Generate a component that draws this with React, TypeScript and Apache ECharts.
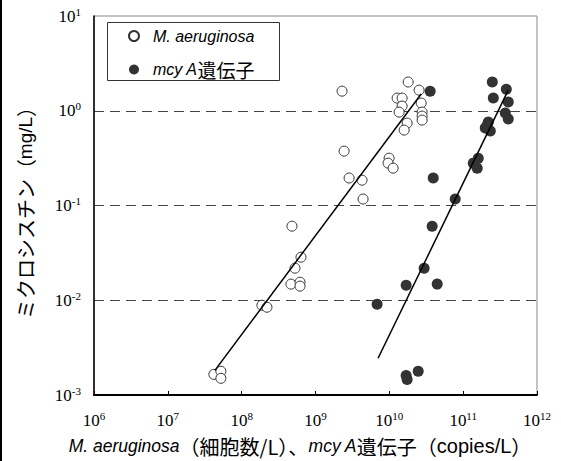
import React, { useEffect, useRef } from "react";
import * as echarts from "echarts";

// M. aeruginosa (cells/L) vs microcystin (mg/L)
const cellX = [4.2e7, 5.23e7, 5.23e7, 1.88e8, 2.2e8, 4.8e8, 6.36e8, 5.28e8, 4.65e8, 6.17e8, 6.17e8, 2.29e9, 2.44e9, 2.85e9, 4.27e9, 4.41e9, 9.93e9, 9.62e9, 1.125e10, 1.8e10, 2.53e10, 1.275e10, 1.49e10, 1.49e10, 1.357e10, 1.743e10, 1.587e10, 2.7e10, 2.78e10, 2.78e10, 2.78e10];
const cellY = [1.65e-3, 1.78e-3, 1.5e-3, 8.86e-3, 8.44e-3, 0.0605, 0.0285, 0.0218, 0.0148, 0.0155, 0.0141, 1.61, 0.375, 0.195, 0.185, 0.117, 0.316, 0.28, 0.248, 2.01, 1.65, 1.36, 1.36, 1.12, 0.968, 0.741, 0.625, 1.205, 0.968, 0.878, 0.797];

// mcy A gene (copies/L) vs microcystin (mg/L)
const geneX = [6.83e9, 1.69e10, 2.96e10, 4.45e10, 1.69e10, 1.743e10, 2.46e10, 3.8e10, 3.93e10, 3.57e10, 7.8e10, 1.6e11, 1.37e11, 1.55e11, 2.19e11, 1.99e11, 2.33e11, 2.12e11, 2.48e11, 3.84e11, 2.56e11, 4.08e11, 3.72e11, 4.08e11];
const geneY = [9.08e-3, 0.0144, 0.0218, 0.0148, 1.61e-3, 1.46e-3, 1.78e-3, 0.0605, 0.195, 1.61, 0.117, 0.316, 0.28, 0.248, 0.759, 0.656, 0.61, 0.706, 2.01, 1.69, 1.36, 1.235, 0.945, 0.817];

// regression lines (end points)
const cellFitX = [4.34e7, 2.7e10];
const cellFitY = [1.82e-3, 1.5];
const geneFitX = [7.04e9, 4.08e11];
const geneFitY = [2.44e-3, 1.65];

// axis ranges (decade exponents)
const xExponents = [6, 7, 8, 9, 10, 11, 12];
const yExponents = [-3, -2, -1, 0, 1];

const seriesNames = ["M. aeruginosa", "mcy A遺伝子"];

const zip = (xs: number[], ys: number[]) => xs.map((x, i) => [x, ys[i]]);

const SERIF = "'Liberation Serif', 'Times New Roman', serif";
const SANS = "'Liberation Sans', Arial, sans-serif";
const CJK = "'Noto Sans CJK JP', sans-serif";

const powLabel = (v: number) => {
  const e = Math.round(Math.log10(v));
  return `{b|10}{s|${e}}`;
};

const powRich = {
  b: { fontFamily: SERIF, fontSize: 17, color: "#000", lineHeight: 20 },
  s: { fontFamily: SERIF, fontSize: 11, color: "#000", lineHeight: 8, verticalAlign: "top" },
};

export default function App() {
  const ref = useRef<HTMLDivElement>(null);
  useEffect(() => {
    if (!ref.current) return;
    const chart = echarts.init(ref.current, null, { renderer: "svg" });
    chart.setOption({
      animation: false,
      backgroundColor: "#fff",
      grid: {
        left: 94,
        right: 24,
        top: 16,
        bottom: 66,
        show: true,
        borderColor: "#888",
        borderWidth: 1,
      },
      legend: {
        data: seriesNames,
        orient: "vertical",
        left: 128,
        top: 28,
        padding: 0,
        itemWidth: 10,
        itemHeight: 10,
        itemGap: 16,
        selectedMode: false,
        formatter: (name: string) =>
          name === seriesNames[0] ? "{i|M. aeruginosa}" : "{i|mcy A}{j|遺伝子}",
        textStyle: {
          color: "#000",
          fontSize: 16,
          fontFamily: SANS,
          rich: {
            i: { fontFamily: SANS, fontStyle: "italic", fontSize: 16, color: "#000", lineHeight: 20, padding: [0, 0, 0, 9] },
            j: { fontFamily: CJK, fontSize: 19, color: "#000", lineHeight: 20 },
          },
        },
      },
      xAxis: {
        type: "log",
        logBase: 10,
        min: Math.pow(10, xExponents[0]),
        max: Math.pow(10, xExponents[xExponents.length - 1]),
        splitNumber: xExponents.length - 1,
        axisLine: { show: true, lineStyle: { color: "#000", width: 2 } },
        axisTick: { show: true, inside: true, length: 4, lineStyle: { color: "#000", width: 1 } },
        minorTick: { show: false },
        splitLine: { show: false },
        axisLabel: {
          margin: 15,
          color: "#000",
          fontSize: 17,
          fontFamily: SERIF,
          formatter: powLabel,
          rich: powRich,
        },
      },
      yAxis: {
        type: "log",
        logBase: 10,
        min: Math.pow(10, yExponents[0]),
        max: Math.pow(10, yExponents[yExponents.length - 1]),
        splitNumber: yExponents.length - 1,
        axisLine: { show: true, lineStyle: { color: "#000", width: 1.5 } },
        axisTick: { show: false },
        minorTick: { show: false },
        splitLine: {
          show: true,
          showMinLine: false,
          showMaxLine: false,
          lineStyle: { color: "#444", type: [10, 6], width: 1 },
        },
        axisLabel: {
          margin: 13,
          color: "#000",
          fontSize: 17,
          fontFamily: SERIF,
          formatter: powLabel,
          rich: powRich,
        },
      },
      graphic: [
        { type: "rect", left: 0, top: 0, shape: { x: 0, y: 0, width: 2, height: 461 }, style: { fill: "#000" } },
        {
          type: "rect",
          shape: { x: 107.5, y: 22.5, width: 172, height: 58 },
          style: { fill: "none", stroke: "#333", lineWidth: 1 },
          z: 10,
        },
        {
          type: "text",
          x: 300,
          y: 446,
          style: {
            text: "{i|M. aeruginosa}{j|（細胞数/L）、}{i|mcy A}{j|遺伝子（}{n|copies/L}{j|）}",
            align: "center",
            verticalAlign: "middle",
            rich: {
              i: { fontFamily: SANS, fontStyle: "italic", fontSize: 17.5, fill: "#000" },
              n: { fontFamily: SANS, fontSize: 20, fill: "#000" },
              j: { fontFamily: CJK, fontSize: 20, fill: "#000" },
            },
          },
        },
        {
          type: "text",
          x: 25,
          y: 208,
          rotation: Math.PI / 2,
          style: {
            text: "{j|ミクロシスチン（}{n|mg/L}{j|）}",
            align: "center",
            verticalAlign: "middle",
            rich: {
              n: { fontFamily: SANS, fontSize: 19, fill: "#000" },
              j: { fontFamily: CJK, fontSize: 20, fill: "#000" },
            },
          },
        },
      ],
      series: [
        {
          name: seriesNames[0],
          type: "scatter",
          symbol: "circle",
          symbolSize: 10,
          itemStyle: { color: "#fff", borderColor: "#333", borderWidth: 1, opacity: 1 },
          data: zip(cellX, cellY),
          z: 2,
        },
        {
          name: seriesNames[1],
          type: "scatter",
          symbol: "circle",
          symbolSize: 11,
          itemStyle: { color: "#333", borderColor: "#333", borderWidth: 0, opacity: 1 },
          data: zip(geneX, geneY),
          z: 2,
        },
        {
          name: "fit-cell",
          type: "line",
          symbol: "none",
          silent: true,
          lineStyle: { color: "#000", width: 1.5 },
          data: zip(cellFitX, cellFitY),
          z: 3,
        },
        {
          name: "fit-gene",
          type: "line",
          symbol: "none",
          silent: true,
          lineStyle: { color: "#000", width: 1.5 },
          data: zip(geneFitX, geneFitY),
          z: 3,
        },
      ],
    });
    return () => chart.dispose();
  }, []);
  return (
    <div style={{ position: "fixed", left: 0, top: 0, width: 561, height: 461, background: "#fff" }}>
      <div ref={ref} style={{ width: 561, height: 461 }} />
    </div>
  );
}
